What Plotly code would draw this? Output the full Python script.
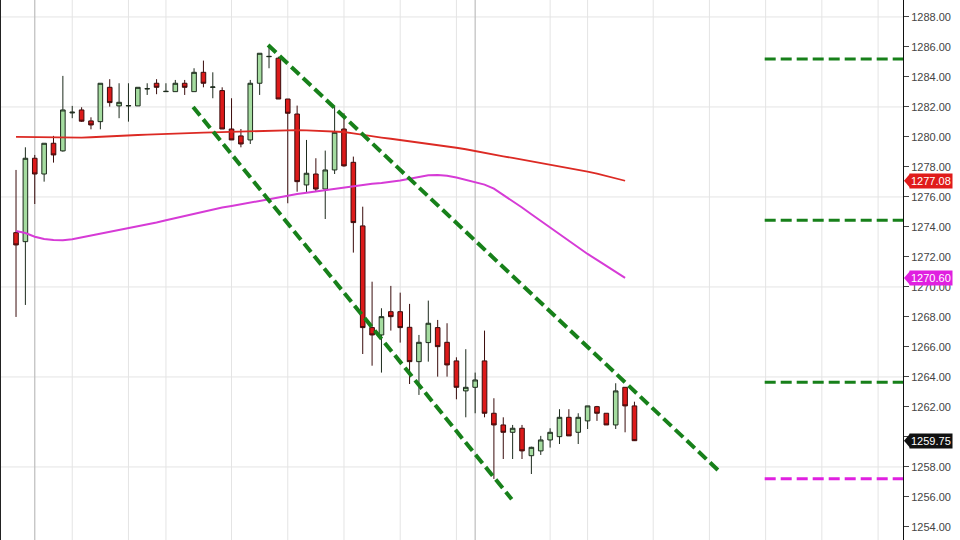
import plotly.graph_objects as go

# ---------------- data ----------------
opens = [1273.62, 1273.02, 1278.58, 1277.53, 1279.58, 1279.07, 1281.60, 1281.80, 1281.07, 1281.02,
         1283.31, 1282.07, 1282.07, 1282.07, 1283.20, 1283.58, 1283.02, 1283.02, 1283.58, 1283.02,
         1284.31, 1283.31, 1283.09, 1280.53, 1280.07, 1279.80, 1283.58, 1285.35, 1285.25, 1282.53,
         1281.53, 1276.80, 1277.53, 1276.53, 1277.80, 1280.53, 1278.31, 1274.07, 1267.29, 1266.80,
         1268.35, 1268.35, 1267.31, 1265.02, 1266.29, 1267.29, 1266.31, 1265.07, 1263.07, 1263.31,
         1265.07, 1261.58, 1260.80, 1260.31, 1260.58, 1258.75, 1259.07, 1259.80, 1260.02, 1261.31,
         1260.31, 1261.07, 1262.02, 1261.58, 1260.80, 1263.31, 1262.07]
highs = [1277.80, 1279.31, 1278.80, 1279.58, 1280.07, 1284.07, 1282.07, 1281.98, 1281.31, 1283.58,
         1283.85, 1283.58, 1283.58, 1283.31, 1283.58, 1283.85, 1283.58, 1283.80, 1283.80, 1284.58,
         1285.09, 1284.31, 1283.31, 1282.58, 1280.53, 1283.80, 1285.58, 1286.02, 1285.35, 1282.53,
         1282.09, 1279.80, 1278.58, 1279.09, 1282.02, 1281.58, 1278.69, 1275.35, 1270.35, 1268.58,
         1270.07, 1269.62, 1268.87, 1266.80, 1269.09, 1267.80, 1267.58, 1265.31, 1265.85, 1264.29,
         1267.09, 1262.58, 1261.31, 1260.80, 1260.80, 1259.35, 1260.07, 1260.58, 1261.85, 1261.85,
         1261.58, 1262.07, 1262.07, 1261.58, 1263.58, 1263.31, 1262.35]
lows = [1268.00, 1268.80, 1275.53, 1277.02, 1278.29, 1279.02, 1281.25, 1281.00, 1280.51, 1280.51,
        1282.02, 1281.25, 1281.02, 1282.07, 1282.80, 1282.85, 1283.02, 1283.02, 1282.80, 1283.02,
        1283.31, 1282.58, 1280.53, 1279.80, 1279.31, 1279.53, 1282.80, 1284.58, 1282.53, 1275.58,
        1276.35, 1276.29, 1276.35, 1274.53, 1277.53, 1278.02, 1272.29, 1265.53, 1264.75, 1264.29,
        1267.09, 1266.29, 1263.53, 1262.80, 1265.02, 1264.02, 1264.02, 1262.51, 1261.31, 1261.58,
        1261.31, 1257.20, 1258.53, 1258.53, 1258.53, 1257.53, 1258.80, 1259.29, 1259.53, 1260.07,
        1259.53, 1260.53, 1261.07, 1260.80, 1260.53, 1260.31, 1259.80]
closes = [1272.80, 1278.58, 1277.53, 1279.58, 1278.80, 1281.80, 1281.65, 1281.05, 1280.80, 1283.58,
          1282.29, 1282.31, 1282.09, 1283.31, 1283.22, 1283.31, 1283.04, 1283.58, 1283.31, 1284.31,
          1283.58, 1283.33, 1280.53, 1279.80, 1279.53, 1283.58, 1285.58, 1285.37, 1282.53, 1281.58,
          1277.02, 1277.58, 1276.53, 1277.80, 1280.31, 1278.07, 1274.29, 1267.29, 1266.80, 1268.02,
          1268.02, 1267.29, 1265.02, 1266.31, 1267.58, 1266.02, 1264.80, 1263.31, 1263.31, 1263.80,
          1261.58, 1260.80, 1260.31, 1260.58, 1259.07, 1259.31, 1259.80, 1260.31, 1261.31, 1260.07,
          1261.31, 1262.07, 1261.58, 1260.80, 1263.07, 1262.07, 1259.75]

ma_slow = [1280.00, 1279.99, 1279.98, 1279.97, 1279.96, 1279.95, 1279.95, 1279.96, 1279.98, 1280.00,
           1280.04, 1280.07, 1280.10, 1280.13, 1280.16, 1280.19, 1280.21, 1280.23, 1280.25, 1280.27,
           1280.29, 1280.31, 1280.33, 1280.35, 1280.37, 1280.39, 1280.41, 1280.43, 1280.44, 1280.45,
           1280.45, 1280.44, 1280.42, 1280.40, 1280.38, 1280.33, 1280.24, 1280.13, 1280.04, 1279.96,
           1279.88, 1279.80, 1279.71, 1279.62, 1279.54, 1279.45, 1279.37, 1279.28, 1279.18, 1279.05,
           1278.93, 1278.82, 1278.71, 1278.60, 1278.49, 1278.38, 1278.27, 1278.16, 1278.05, 1277.94,
           1277.83, 1277.69, 1277.55, 1277.40, 1277.24, 1277.08]
ma_fast = [1273.73, 1273.60, 1273.35, 1273.20, 1273.13, 1273.12, 1273.18, 1273.30, 1273.42, 1273.55,
           1273.67, 1273.78, 1273.90, 1274.03, 1274.17, 1274.30, 1274.45, 1274.60, 1274.75, 1274.88,
           1275.00, 1275.18, 1275.30, 1275.40, 1275.50, 1275.60, 1275.73, 1275.85, 1275.97, 1276.10,
           1276.20, 1276.28, 1276.37, 1276.45, 1276.55, 1276.65, 1276.75, 1276.82, 1276.88, 1276.93,
           1277.00, 1277.10, 1277.22, 1277.35, 1277.45, 1277.47, 1277.42, 1277.30, 1277.15, 1277.00,
           1276.82, 1276.55, 1276.15, 1275.70, 1275.30, 1274.85, 1274.40, 1273.95, 1273.55, 1273.10,
           1272.62, 1272.20, 1271.80, 1271.40, 1271.00, 1270.60]

# trend channel (bar index, price)
upper_trend_x = [26.9, 74.9]
upper_trend_y = [1286.13, 1257.80]
lower_trend_x = [18.9, 52.9]
lower_trend_y = [1282.00, 1255.85]

# horizontal levels on the right
green_levels = [1285.20, 1274.45, 1263.65]
magenta_levels = [1257.22]
level_start = 79.9
level_end = 95.0

# price tags
tag_values = [1277.08, 1270.60, 1259.75]
tag_labels = ["1277.08", "1270.60", "1259.75"]
tag_colors = ["#e01b1b", "#e020e0", "#111111"]

# axis ticks (1260.00 is hidden behind the last-price tag in the original)
y_ticks = [1254 + 2 * k for k in range(18)]
y_ticktext = ["" if v == 1260 else f"{v:.2f}" for v in y_ticks]
y_grid = [1252, 1258, 1264, 1270, 1276, 1282, 1288]
x_grid = [6, 12, 16, 23, 29, 35, 41, 47, 57, 61, 68, 74, 80, 86, 92]
x_session = [2, 49]

x_idx = list(range(len(opens)))
ma_x = list(range(len(ma_slow)))

X_RANGE = [-1.71, 94.66]
Y_RANGE = [1253.13, 1289.13]

fig = go.Figure()

# grid lines
for g in y_grid:
    fig.add_shape(type="line", xref="paper", x0=0, x1=1, y0=g, y1=g,
                  line=dict(color="#e4e4e4", width=1), layer="below")
for g in x_grid:
    fig.add_shape(type="line", yref="paper", y0=0, y1=1, x0=g, x1=g,
                  line=dict(color="#e4e4e4", width=1), layer="below")
for g in x_session:
    fig.add_shape(type="line", yref="paper", y0=0, y1=1, x0=g, x1=g,
                  line=dict(color="#bdbdbd", width=1.2), layer="below")

fig.add_trace(go.Scatter(x=ma_x, y=ma_slow, mode="lines",
                         line=dict(color="#dc2a24", width=1.8), hoverinfo="skip"))
fig.add_trace(go.Scatter(x=ma_x, y=ma_fast, mode="lines",
                         line=dict(color="#d63bd6", width=2), hoverinfo="skip"))

fig.add_trace(go.Candlestick(
    x=x_idx, open=opens, high=highs, low=lows, close=closes,
    increasing=dict(line=dict(color="#1d2b1d", width=1), fillcolor="#a5dca0"),
    decreasing=dict(line=dict(color="#3a0c0c", width=1), fillcolor="#dc1a1a"),
    whiskerwidth=0, hoverinfo="skip"))

dash_style = "11px,5px"
fig.add_trace(go.Scatter(x=upper_trend_x, y=upper_trend_y, mode="lines",
                         line=dict(color="#17801a", width=4, dash=dash_style), hoverinfo="skip"))
fig.add_trace(go.Scatter(x=lower_trend_x, y=lower_trend_y, mode="lines",
                         line=dict(color="#17801a", width=4, dash=dash_style), hoverinfo="skip"))

for lv in green_levels:
    fig.add_trace(go.Scatter(x=[level_start, level_end], y=[lv, lv], mode="lines",
                             line=dict(color="#17801a", width=3, dash=dash_style), hoverinfo="skip"))
for lv in magenta_levels:
    fig.add_trace(go.Scatter(x=[level_start, level_end], y=[lv, lv], mode="lines",
                             line=dict(color="#e020e0", width=3, dash=dash_style), hoverinfo="skip"))

# price tags
for v, t, c in zip(tag_values, tag_labels, tag_colors):
    fig.add_annotation(xref="paper", x=1, xanchor="left", xshift=6, y=v, yref="y",
                       text=t, showarrow=False, bgcolor=c, borderpad=1,
                       font=dict(color="white", size=11, family="Liberation Sans"))
    fig.add_shape(type="path", xref="paper", yref="y", xsizemode="pixel", ysizemode="pixel",
                  xanchor=1, yanchor=v, path="M 1 0 L 7 7 L 7 -7 Z",
                  fillcolor=c, line=dict(width=0))

# left frame line
fig.add_shape(type="line", xref="paper", yref="paper", x0=0, x1=0, y0=0, y1=1,
              line=dict(color="#222222", width=2))

fig.update_layout(
    width=960, height=540,
    margin=dict(l=0, r=57, t=0, b=0, autoexpand=False),
    paper_bgcolor="white", plot_bgcolor="white",
    showlegend=False,
    xaxis=dict(range=X_RANGE, showgrid=False, zeroline=False, showticklabels=False,
               rangeslider=dict(visible=False), fixedrange=True, automargin=False),
    yaxis=dict(range=Y_RANGE, side="right", tickvals=y_ticks,
               ticktext=y_ticktext, automargin=False,
               showgrid=False, zeroline=False, showline=True, linecolor="#111111", linewidth=1,
               ticks="outside", ticklen=5, tickcolor="#444444",
               tickfont=dict(family="Liberation Sans", size=11, color="#444444")),
    boxgap=0.3,
)

fig.write_html("out.html", config={"displayModeBar": False},
               post_script="document.body.style.margin='0';document.body.style.overflow='hidden';")
